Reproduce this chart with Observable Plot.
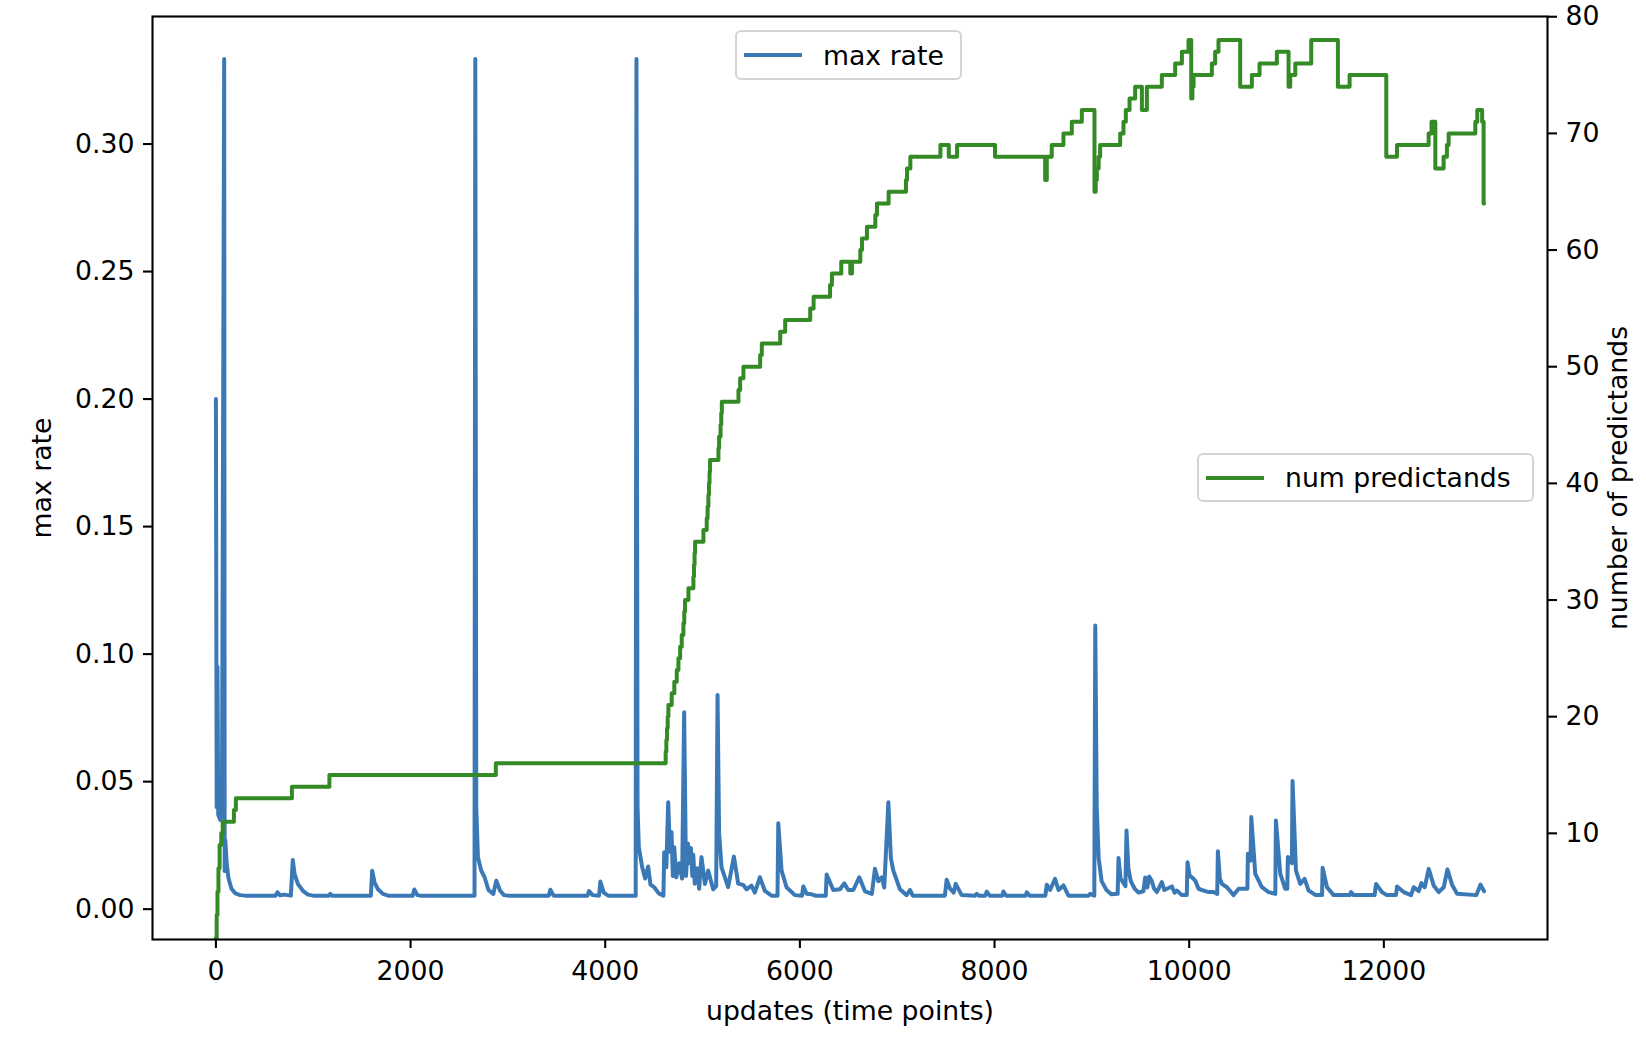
<!DOCTYPE html>
<html>
<head>
<meta charset="utf-8">
<script src="https://cdn.jsdelivr.net/npm/d3@7"></script>
<script src="https://cdn.jsdelivr.net/npm/@observablehq/plot@0.6"></script>
<style>
  body { margin: 0; background: #fff; }
  #wrap { position: relative; width: 1646px; height: 1038px; font-family: "DejaVu Sans", sans-serif; color: #000; }
  #wrap svg { position: absolute; left: 0; top: 0; }
  .leg { position: absolute; box-sizing: border-box; border: 2px solid #d4d4d4; border-radius: 6px;
         background: rgba(255,255,255,0.85); display: flex; align-items: center; font-size: 26.7px; white-space: nowrap; }
  .leg .sw { display: inline-block; width: 58px; height: 0; border-top: 4px solid; margin-left: 7px; margin-right: 21px; }
</style>
</head>
<body>
<div id="wrap"></div>
<script>
// ---- data ----
const xTicks = [0, 2000, 4000, 6000, 8000, 10000, 12000];
const rateTicks = [0, 0.05, 0.10, 0.15, 0.20, 0.25, 0.30];
const predTicks = [10, 20, 30, 40, 50, 60, 70, 80];
const xDomain = [-651.5, 13681.5];
const rateDomain = [-0.0119, 0.3500];
const predDomain = [0.9, 80.02];

// max rate: [update, rate]
const rateData = [
  [0,0.200],[8,0.040],[16,0.095],[24,0.037],[45,0.035],[62,0.040],[85,0.3333],[90,0.015],[97,0.027],[110,0.018],
  [130,0.012],[160,0.008],[200,0.0062],[250,0.0055],[300,0.0053],[612,0.0053],[632,0.0066],[660,0.0054],[700,0.0057],[770,0.0053],
  [790,0.0193],[808,0.0138],[843,0.0098],[894,0.0072],[946,0.0057],[1000,0.0053],[1160,0.0053],[1176,0.0060],[1192,0.0053],[1592,0.0053],
  [1606,0.0151],[1630,0.0104],[1665,0.0078],[1716,0.0060],[1770,0.0053],[2022,0.0053],[2038,0.0077],[2070,0.0055],[2100,0.0053],[2657,0.0053],
  [2665,0.3333],[2675,0.040],[2692,0.0204],[2726,0.0151],[2761,0.0125],[2800,0.0075],[2850,0.0060],[2881,0.0112],[2920,0.0072],[2960,0.0055],
  [3000,0.0053],[3420,0.0053],[3436,0.0076],[3470,0.0053],[3818,0.0053],[3834,0.0071],[3870,0.0055],[3937,0.0053],[3950,0.0108],[3985,0.0065],
  [4030,0.0053],[4313,0.0053],[4321,0.3333],[4332,0.040],[4345,0.0243],[4380,0.0164],[4410,0.0120],[4441,0.0167],[4465,0.0096],[4505,0.0085],
  [4550,0.0062],[4598,0.0053],[4606,0.0223],[4628,0.0164],[4647,0.0419],[4665,0.0225],[4681,0.0302],[4695,0.0130],[4709,0.0243],[4730,0.0125],
  [4760,0.0180],[4790,0.0120],[4811,0.0772],[4830,0.0130],[4850,0.0257],[4870,0.0180],[4880,0.0240],[4895,0.0130],[4905,0.0213],[4920,0.0100],
  [4945,0.0160],[4965,0.0080],[4989,0.0204],[5024,0.0099],[5058,0.0151],[5109,0.0078],[5140,0.0090],[5154,0.0840],[5170,0.0300],[5195,0.0164],
  [5263,0.0086],[5322,0.0206],[5366,0.0100],[5418,0.0095],[5452,0.0078],[5503,0.0092],[5537,0.0065],[5589,0.0125],[5640,0.0072],[5709,0.0053],
  [5770,0.0053],[5778,0.0337],[5812,0.0151],[5863,0.0086],[5949,0.0055],[6022,0.0053],[6035,0.0089],[6070,0.0060],[6121,0.0058],[6160,0.0053],
  [6266,0.0053],[6275,0.0136],[6343,0.0075],[6412,0.0078],[6456,0.0101],[6497,0.0075],[6549,0.0075],[6610,0.0125],[6669,0.0070],[6740,0.0060],
  [6771,0.0158],[6806,0.0110],[6840,0.0125],[6867,0.0085],[6909,0.0419],[6935,0.0200],[6960,0.0151],[7028,0.0078],[7097,0.0055],[7131,0.0075],
  [7160,0.0053],[7490,0.0053],[7508,0.0115],[7543,0.0080],[7580,0.0065],[7601,0.0099],[7662,0.0055],[7800,0.0053],[7817,0.0060],[7840,0.0053],
  [7905,0.0053],[7920,0.0069],[7950,0.0053],[8080,0.0053],[8091,0.0069],[8120,0.0053],[8320,0.0053],[8331,0.0066],[8360,0.0053],[8522,0.0053],
  [8537,0.0096],[8571,0.0075],[8622,0.0119],[8657,0.0075],[8708,0.0093],[8760,0.0053],[8965,0.0053],[8983,0.0060],[9025,0.0053],[9035,0.1112],
  [9050,0.0400],[9070,0.0200],[9100,0.0110],[9150,0.0075],[9200,0.0058],[9265,0.0060],[9274,0.0201],[9295,0.0120],[9345,0.0090],[9356,0.0308],
  [9375,0.0160],[9400,0.0110],[9440,0.0080],[9480,0.0065],[9530,0.0070],[9548,0.0124],[9570,0.0085],[9589,0.0128],[9616,0.0110],[9640,0.0080],
  [9668,0.0067],[9719,0.0106],[9745,0.0075],[9771,0.0080],[9822,0.0089],[9850,0.0065],[9873,0.0073],[9925,0.0055],[9975,0.0055],[9983,0.0184],
  [10005,0.0130],[10028,0.0125],[10062,0.0112],[10096,0.0080],[10147,0.0073],[10199,0.0067],[10250,0.0067],[10288,0.0060],[10295,0.0227],[10315,0.0120],
  [10336,0.0099],[10388,0.0086],[10456,0.0055],[10508,0.0080],[10576,0.0080],[10598,0.0080],[10603,0.0217],[10630,0.0190],[10638,0.0361],[10679,0.0138],
  [10747,0.0086],[10816,0.0067],[10885,0.0060],[10891,0.0348],[10936,0.0138],[10987,0.0080],[11008,0.0080],[11014,0.0204],[11055,0.0180],[11062,0.0502],
  [11097,0.0151],[11141,0.0099],[11186,0.0119],[11227,0.0073],[11300,0.0055],[11365,0.0055],[11371,0.0162],[11416,0.0086],[11484,0.0055],[11650,0.0055],
  [11663,0.0067],[11690,0.0055],[11905,0.0055],[11920,0.0099],[11981,0.0067],[12030,0.0055],[12125,0.0055],[12136,0.0089],[12204,0.0067],[12280,0.0055],
  [12307,0.0086],[12359,0.0071],[12386,0.0102],[12420,0.0086],[12461,0.0158],[12513,0.0092],[12564,0.0067],[12616,0.0086],[12653,0.0156],[12701,0.0096],
  [12753,0.0060],[12950,0.0055],[12993,0.0096],[13030,0.0070]
];

// num predictands: [update, count] (held until the next update)
const predData = [
  [0,1],[8,3],[16,5],[26,7],[38,9],[55,10],[70,11],[185,12],[205,13],[781,14],
  [1166,15],[2876,16],[4621,17],[4628,18],[4635,19],[4642,20],[4649,21],[4683,22],[4710,23],[4735,24],
  [4752,25],[4770,26],[4786,27],[4803,28],[4812,29],[4820,30],[4855,31],[4906,32],[4912,33],[4918,34],
  [4923,35],[5009,36],[5043,37],[5052,38],[5060,39],[5066,40],[5072,41],[5077,42],[5163,43],[5170,44],
  [5185,45],[5192,46],[5198,47],[5369,48],[5386,49],[5420,50],[5592,51],[5609,52],[5798,53],[5849,54],
  [6106,55],[6141,56],[6310,57],[6329,58],[6425,59],[6518,58],[6535,59],[6621,60],[6638,61],[6689,62],
  [6775,63],[6792,64],[6912,65],[7090,66],[7101,67],[7135,68],[7444,69],[7530,68],[7615,69],[8005,68],
  [8520,66],[8537,68],[8588,69],[8708,70],[8794,71],[8897,72],[9027,65],[9040,66],[9051,67],[9070,68],
  [9085,69],[9291,70],[9325,71],[9349,72],[9387,73],[9445,74],[9514,72],[9565,74],[9719,75],[9856,76],
  [9925,77],[9993,78],[10021,73],[10033,74],[10045,75],[10233,76],[10267,77],[10301,78],[10524,74],[10644,75],
  [10723,76],[10901,77],[11021,74],[11038,75],[11090,76],[11254,78],[11528,74],[11648,75],[12025,68],[12135,69],
  [12460,70],[12490,71],[12529,67],[12614,68],[12648,69],[12666,70],[12940,71],[12960,72],[13010,71],[13025,64],
  [13030,64]
];

// map the right-axis quantity into the left scale's domain (twin axis)
const toRate = v => rateDomain[0] + (v - predDomain[0]) * (rateDomain[1] - rateDomain[0]) / (predDomain[1] - predDomain[0]);
const toPred = r => predDomain[0] + (r - rateDomain[0]) * (predDomain[1] - predDomain[0]) / (rateDomain[1] - rateDomain[0]);

const blue = "#3b79b6";
const green = "#348a24";

const chart = Plot.plot({
  width: 1646,
  height: 1038,
  marginLeft: 152,
  marginRight: 99,
  marginTop: 16,
  marginBottom: 99,
  style: { fontFamily: "DejaVu Sans, sans-serif", fontSize: "26.7px", color: "#000", background: "transparent" },
  x: { domain: xDomain },
  y: { domain: rateDomain },
  marks: [
    Plot.line(rateData, { x: d => d[0], y: d => d[1], stroke: blue, strokeWidth: 4, clip: true }),
    Plot.line(predData, { x: d => d[0], y: d => toRate(d[1]), curve: "step-after", stroke: green, strokeWidth: 4, clip: true }),
    Plot.frame({ stroke: "#000", strokeWidth: 2.1 }),
    Plot.axisX(xTicks, { tickSize: 9, tickPadding: 13, strokeWidth: 2.1, label: null, tickFormat: d => String(d) }),
    Plot.axisY(rateTicks, { tickSize: 9, tickPadding: 9, strokeWidth: 2.1, label: null, tickFormat: d => d.toFixed(2) }),
    Plot.axisY(predTicks.map(toRate), { anchor: "right", tickSize: 9, tickPadding: 9, strokeWidth: 2.1, label: null,
      tickFormat: d => String(Math.round(toPred(d))) }),
    Plot.text(["updates (time points)"], { frameAnchor: "bottom", textAnchor: "middle", lineAnchor: "middle", dy: 72, text: d => d, fontSize: 26.7 }),
    Plot.text(["max rate"], { frameAnchor: "left", textAnchor: "middle", lineAnchor: "middle", dx: -110, rotate: -90, text: d => d, fontSize: 26.7 }),
    Plot.text(["number of predictands"], { frameAnchor: "right", textAnchor: "middle", lineAnchor: "middle", dx: 71, rotate: -90, text: d => d, fontSize: 26.7 })
  ]
});

const wrap = document.getElementById("wrap");
wrap.appendChild(chart);

function legend(label, color, left, top, width, height) {
  const box = document.createElement("div");
  box.className = "leg";
  box.style.left = left + "px";
  box.style.top = top + "px";
  box.style.width = width + "px";
  box.style.height = height + "px";
  const sw = document.createElement("span");
  sw.className = "sw";
  sw.style.borderTopColor = color;
  const tx = document.createElement("span");
  tx.textContent = label;
  box.appendChild(sw);
  box.appendChild(tx);
  wrap.appendChild(box);
}
legend("max rate", blue, 735, 30, 227, 50);
legend("num predictands", green, 1197, 453, 337, 49);
</script>
</body>
</html>
